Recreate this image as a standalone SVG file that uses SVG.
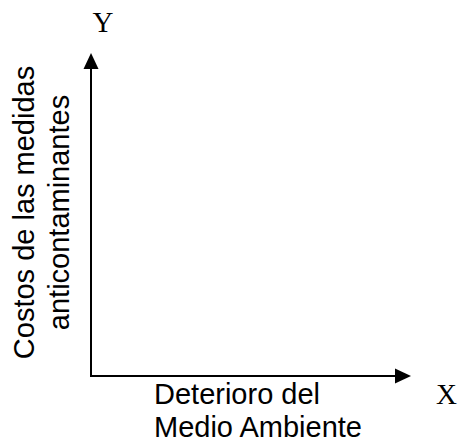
<svg xmlns="http://www.w3.org/2000/svg" width="458" height="440" viewBox="0 0 458 440">
  <style>
    .axis { stroke: #000; stroke-width: 2; fill: none; }
    .head { fill: #000; stroke: none; }
    .sans { font-family: "Liberation Sans", Arial, sans-serif; font-size: 29px; fill: #000; }
    .serif { font-family: "Liberation Serif", "Times New Roman", serif; font-size: 29px; fill: #000; }
  </style>
  <rect width="458" height="440" fill="#fff"/>
  <g id="connectors">
    <line class="axis" x1="91" y1="376" x2="91" y2="66"/>
    <polygon class="head" points="91,53 83.5,69 98.5,69"/>
    <line class="axis" x1="90" y1="376" x2="397" y2="376"/>
    <polygon class="head" points="411,376 395,368.5 395,383.5"/>
  </g>
  <g id="y-label">
    <text class="serif" x="103" y="31.5" text-anchor="middle">Y</text>
  </g>
  <g id="x-label">
    <text class="serif" x="436" y="404">X</text>
  </g>
  <g id="y-title">
    <text class="sans" transform="translate(33.5,212.5) rotate(-90)" text-anchor="middle">Costos de las medidas</text>
    <text class="sans" transform="translate(68.5,212.5) rotate(-90)" text-anchor="middle">anticontaminantes</text>
  </g>
  <g id="x-title">
    <text class="sans" x="154" y="404">Deterioro del</text>
    <text class="sans" x="154" y="436.5">Medio Ambiente</text>
  </g>
</svg>
